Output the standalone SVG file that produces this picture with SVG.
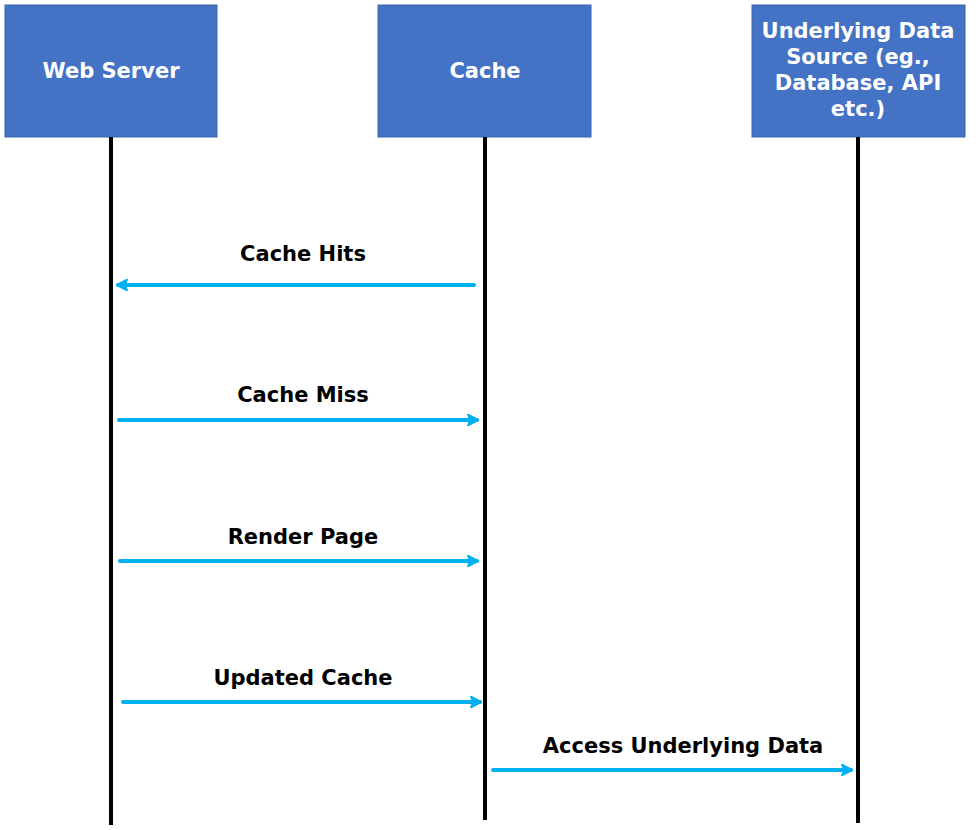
<svg xmlns="http://www.w3.org/2000/svg" width="980" height="830" viewBox="0 0 980 830">
<style>
.box{fill:#4472c4;stroke:#3a64ad;stroke-width:1}
.bt{font-family:"DejaVu Sans",sans-serif;font-weight:bold;font-size:21px;fill:#fff;text-anchor:middle}
.lt{font-family:"DejaVu Sans",sans-serif;font-weight:bold;font-size:21px;fill:#000;text-anchor:middle}
.life{stroke:#000;stroke-width:4}
.msg{stroke:#00b0f0;stroke-width:4;stroke-linecap:round;marker-end:url(#ah)}
</style>
<defs>
<marker id="ah" viewBox="0 0 10 10" refX="8" refY="5" markerWidth="3" markerHeight="3" orient="auto" markerUnits="strokeWidth">
<path d="M0,0 L10,5 L0,10 L2,5 Z" fill="#00b0f0" stroke="#00b0f0" stroke-linejoin="round"/>
</marker>
</defs>
<g id="webserver"><rect class="box" x="5" y="5" width="212" height="132"/><text class="bt" x="111" y="78">Web Server</text></g>
<g id="cache"><rect class="box" x="378" y="5" width="213" height="132"/><text class="bt" x="485" y="78">Cache</text></g>
<g id="datasource"><rect class="box" x="752" y="5" width="213" height="132"/>
<text class="bt" x="858" y="38">Underlying Data</text><text class="bt" x="858" y="64">Source (eg.,</text><text class="bt" x="858" y="90">Database, API</text><text class="bt" x="858" y="116">etc.)</text></g>
<g id="connectors">
<line class="life" x1="111" y1="137" x2="111" y2="825"/>
<line class="life" x1="485" y1="137" x2="485" y2="820"/>
<line class="life" x1="858" y1="137" x2="858" y2="823"/>
<line class="msg" x1="474" y1="285" x2="118" y2="285"/>
<line class="msg" x1="119" y1="420" x2="477" y2="420"/>
<line class="msg" x1="120" y1="561" x2="477" y2="561"/>
<line class="msg" x1="123" y1="702" x2="480" y2="702"/>
<line class="msg" x1="493" y1="770" x2="851" y2="770"/>
<text class="lt" x="303" y="261">Cache Hits</text>
<text class="lt" x="303" y="402">Cache Miss</text>
<text class="lt" x="303" y="544">Render Page</text>
<text class="lt" x="303" y="685">Updated Cache</text>
<text class="lt" x="683" y="753">Access Underlying Data</text>
</g>
</svg>
